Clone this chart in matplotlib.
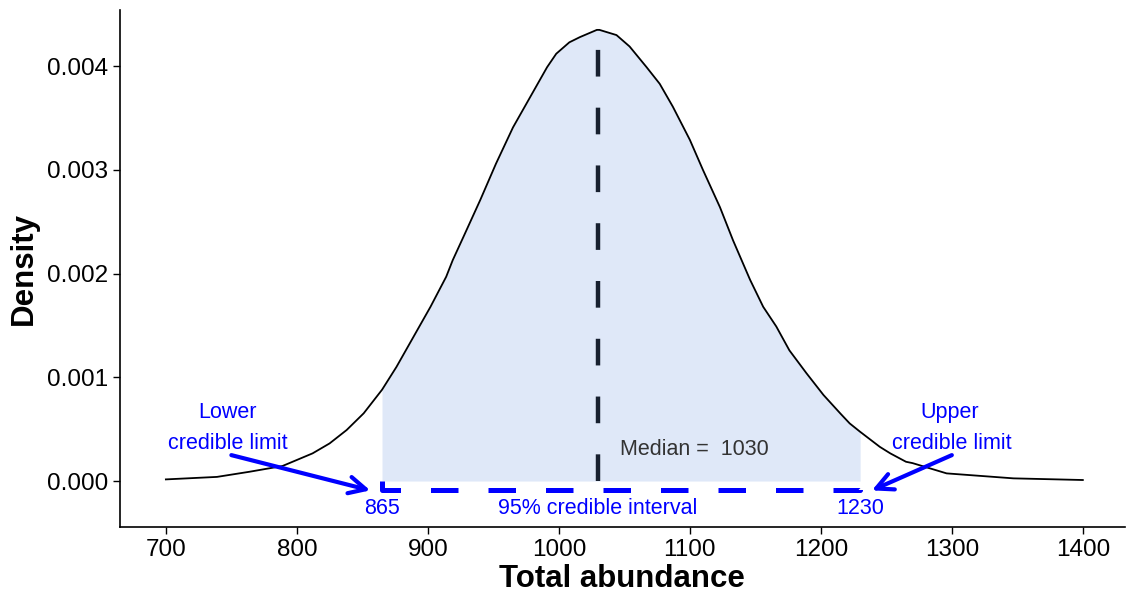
import matplotlib
matplotlib.use("Agg")
import matplotlib.pyplot as plt
import numpy as np

plt.rcParams["font.family"] = ["Liberation Sans", "DejaVu Sans"]

# posterior density of total abundance
abundance = [700, 739, 764, 789, 812, 825, 838, 851, 865, 876, 889, 902, 914,
             919, 927, 940, 952, 965, 978, 991, 998, 1008, 1016, 1029, 1031,
             1044, 1054, 1067, 1077, 1087, 1100, 1110, 1123, 1133, 1146, 1156,
             1166, 1176, 1189, 1202, 1215, 1222, 1230, 1245, 1253, 1265, 1270,
             1296, 1347, 1400]
density = [0.000016, 0.00004, 0.00009, 0.000145, 0.000267, 0.000363, 0.000492,
           0.000653, 0.00088, 0.0011, 0.00139, 0.00168, 0.00197, 0.00213,
           0.00235, 0.00271, 0.00306, 0.00341, 0.0037, 0.00399, 0.00412,
           0.00423, 0.00428, 0.00435, 0.00435, 0.0043, 0.00419, 0.00399,
           0.00383, 0.00361, 0.00329, 0.003, 0.00264, 0.00232, 0.00194,
           0.00168, 0.00149, 0.00126, 0.00104, 0.00083, 0.00065, 0.000556,
           0.000475, 0.00033, 0.000267, 0.000186, 0.000173, 0.000074,
           0.000026, 0.00001]

median = 1030
lower, upper = 865, 1230
xticks = [700, 800, 900, 1000, 1100, 1200, 1300, 1400]
yticks = [0.000, 0.001, 0.002, 0.003, 0.004]

x = np.array(abundance)
y = np.array(density)

fig = plt.figure(figsize=(11.27, 5.92), dpi=100)
ax = fig.add_axes([0.1065, 0.1098, 0.8915, 0.873])

ax.fill_between(x, y, where=(x >= lower) & (x <= upper), color="#DFE8F8", lw=0)
ax.plot(x, y, color="black", lw=1.3, solid_joinstyle="round")

ax.plot([median, median], [0, 0.0043], color="#17202F", lw=3.2,
        linestyle=(0, (6, 7)))

blue = "#0000FF"
ybr = -0.00009
ax.plot([lower, lower, upper, upper], [0, ybr, ybr, 0], color=blue, lw=3.6,
        linestyle=(0, (5.5, 6)))

fs = 15.5
ax.text(1047, 0.0003, "Median =  1030", color="#333333", fontsize=fs,
        ha="left", va="center")
ax.text(lower, -0.00026, str(lower), color=blue, fontsize=fs, ha="center", va="center")
ax.text(upper, -0.00026, str(upper), color=blue, fontsize=fs, ha="center", va="center")
ax.text(median, -0.00026, "95% credible interval", color=blue,
        fontsize=fs, ha="center", va="center")

ax.text(747, 0.00066, "Lower", color=blue, fontsize=fs, ha="center", va="center")
ax.text(747, 0.00036, "credible limit", color=blue, fontsize=fs, ha="center", va="center")
ax.text(1298, 0.00066, "Upper", color=blue, fontsize=fs, ha="center", va="center")
ax.text(1300, 0.00036, "credible limit", color=blue, fontsize=fs, ha="center", va="center")

arrow = dict(arrowstyle="->", color=blue, lw=3, mutation_scale=30,
             shrinkA=0, shrinkB=0)
ax.annotate("", xy=(856, ybr), xytext=(750, 0.00025), arrowprops=arrow)
ax.annotate("", xy=(1239, ybr), xytext=(1300, 0.00025), arrowprops=arrow)

ax.set_xlim(665, 1432)
ax.set_ylim(-0.000443, 0.00454)
ax.set_xticks(xticks)
ax.set_yticks(yticks)
ax.set_yticklabels([f"{v:.3f}" for v in yticks])
ax.tick_params(labelsize=17.5, length=5, width=1, colors="black")
ax.spines["top"].set_visible(False)
ax.spines["right"].set_visible(False)
ax.spines["left"].set_linewidth(1.2)
ax.spines["bottom"].set_linewidth(1.2)

ax.set_xlabel("Total abundance", fontsize=22.5, fontweight="bold", labelpad=2)
ax.set_ylabel("Density", fontsize=22.5, fontweight="bold", labelpad=6)

fig.savefig("out.png", dpi=100, facecolor="white")
